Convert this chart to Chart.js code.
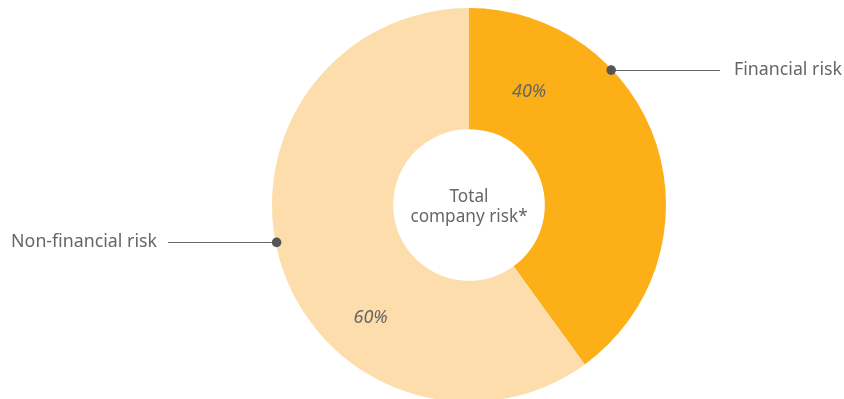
<!DOCTYPE html>
<html>
<head>
<meta charset="utf-8">
<script src="https://cdn.jsdelivr.net/npm/chart.js@4.4.1/dist/chart.umd.min.js"></script>
<style>
  html, body { margin: 0; padding: 0; background: #fff; overflow: hidden; }
  #wrap { position: relative; width: 844px; height: 410px; }
</style>
</head>
<body>
<div id="wrap"><canvas id="riskChart"></canvas></div>
<script>
const categories = ['Financial risk', 'Non-financial risk'];
const shares = [40, 60];
const centerLines = ['Total', 'company risk*'];

const colors = ['#FCAF17', '#FDDDAB'];
const textColor = '#666666';
const labelFont = '17.8px "Noto Sans", "Open Sans", sans-serif';

// per-slice placement of the leader dot and the percent text (degrees from 12 o'clock)
const callouts = [
  { dotAngle: 46.5, side: 'right', lineEnd: 720, textX: 734, pctAngle: 28, pctRadius: 128 },
  { dotAngle: 259, side: 'left', lineEnd: 168, textX: 157, pctAngle: 221, pctRadius: 150 }
];

function polar(cx, cy, r, deg) {
  const a = (deg - 90) * Math.PI / 180;
  return { x: cx + r * Math.cos(a), y: cy + r * Math.sin(a) };
}

const calloutPlugin = {
  id: 'callouts',
  afterDraw(chart) {
    const ctx = chart.ctx;
    const arcs = chart.getDatasetMeta(0).data;
    const cx = arcs[0].x, cy = arcs[0].y, outer = arcs[0].outerRadius;
    ctx.save();

    // center caption
    ctx.fillStyle = textColor;
    ctx.font = '17.2px "Noto Sans", "Open Sans", sans-serif';
    ctx.textAlign = 'center';
    ctx.textBaseline = 'middle';
    ctx.fillText(centerLines[0], cx, cy - 8);
    ctx.fillText(centerLines[1], cx, cy + 12);

    callouts.forEach((c, i) => {
      const p = polar(cx, cy, outer - 1, c.dotAngle);
      // leader line
      ctx.strokeStyle = '#666666';
      ctx.lineWidth = 1;
      ctx.beginPath();
      ctx.moveTo(p.x, Math.round(p.y) + 0.5);
      ctx.lineTo(c.lineEnd, Math.round(p.y) + 0.5);
      ctx.stroke();
      // dot
      ctx.fillStyle = '#555555';
      ctx.beginPath();
      ctx.arc(p.x, p.y, 4.8, 0, Math.PI * 2);
      ctx.fill();
      // category label
      ctx.fillStyle = textColor;
      ctx.font = labelFont;
      ctx.textAlign = c.side === 'right' ? 'left' : 'right';
      ctx.textBaseline = 'middle';
      ctx.fillText(categories[i], c.textX, p.y);
      // percent
      const q = polar(cx, cy, c.pctRadius, c.pctAngle);
      ctx.font = 'italic 18px "Noto Sans", "Open Sans", sans-serif';
      ctx.textAlign = 'center';
      ctx.fillText(shares[i] + '%', q.x, q.y);
    });
    ctx.restore();
  }
};

new Chart(document.getElementById('riskChart'), {
  type: 'doughnut',
  data: {
    labels: categories,
    datasets: [{
      data: shares,
      backgroundColor: colors,
      borderWidth: 0
    }]
  },
  options: {
    responsive: true,
    maintainAspectRatio: false,
    animation: false,
    cutout: '38.5%',
    layout: { padding: { top: 8, bottom: 8, left: 272, right: 178 } },
    plugins: {
      legend: { display: false },
      tooltip: { enabled: false }
    }
  },
  plugins: [calloutPlugin]
});
</script>
</body>
</html>
